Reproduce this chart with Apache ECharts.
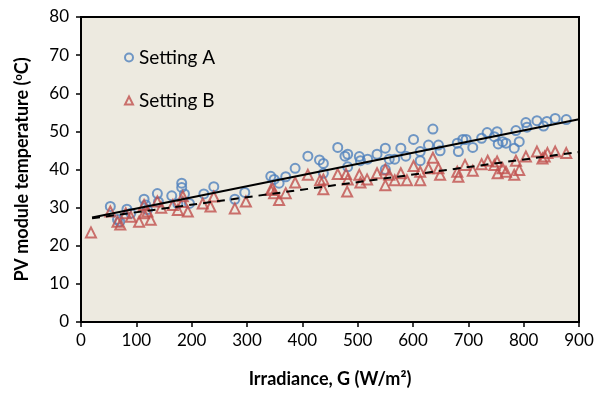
<!DOCTYPE html>
<html>
<head>
<meta charset="utf-8">
<script src="https://cdn.jsdelivr.net/npm/echarts@6/dist/echarts.min.js"></script>
<style>html,body{margin:0;padding:0;background:#fff}#c{width:596px;height:394px}</style>
</head>
<body>
<div id="c"></div>
<script>
var xTicks = [0,100,200,300,400,500,600,700,800,900];
var yTicks = [0,10,20,30,40,50,60,70,80];
var seriesNames = ['Setting A','Setting B'];
var settingA = [[53,30.3],[66,26.9],[70,26.3],[83,29.6],[90,28.5],[114,32.2],[117,30.7],[120,29.5],[138,33.7],[140,31.5],[164,33.1],[175,31],[182,36.4],[182,35.3],[187,33.6],[196,31.1],[222,33.6],[240,35.5],[278,32.2],[296,34],[343,38.2],[349,37.4],[358,36.4],[370,38.1],[387,40.3],[410,43.5],[431,42.5],[438,41.6],[438,39],[464,45.8],[477,43.5],[482,44],[482,40.7],[503,43.4],[505,42.3],[518,42.7],[535,44],[550,45.6],[550,40],[557,42.7],[567,42.7],[578,45.6],[587,43.5],[601,47.9],[613,44.7],[613,42.3],[628,46.4],[636,50.6],[646,46.4],[649,44.9],[680,46.9],[682,44.7],[690,47.9],[696,47.9],[708,45.8],[724,48.2],[734,49.7],[747,48.6],[752,49.9],[754,46.7],[762,47.3],[768,46.9],[783,45.6],[786,50.2],[792,47.3],[804,52.3],[806,51.1],[824,52.8],[836,51.4],[842,52.6],[857,53.4],[877,53.1]];
var settingB = [[18,23.5],[53,29],[66,26.3],[71,25.6],[81,28.5],[90,27.6],[105,26.3],[114,30.7],[114,28.5],[120,29],[126,26.8],[138,31.6],[145,30],[166,30.7],[175,29.4],[184,33],[184,31.5],[193,29],[220,31.1],[234,30.3],[240,32.9],[278,29.8],[298,31.6],[343,34.6],[346,35],[349,33.8],[358,32],[370,33.8],[387,36.6],[410,38.6],[432,37.2],[438,37.4],[438,34.8],[464,38.8],[479,38.8],[482,37.4],[481,34.2],[503,38.6],[505,36.6],[517,37.4],[535,39],[550,40],[550,35.9],[557,38.6],[567,37.2],[578,39],[589,37.2],[601,40.9],[613,37.2],[613,39.4],[628,40.3],[636,43.1],[646,40.3],[649,38.6],[680,39.4],[682,38.1],[694,41.2],[708,39.7],[724,41.4],[735,42.3],[747,41.2],[752,42.1],[753,39],[762,40.3],[768,39.4],[783,38.6],[786,42.3],[792,39.9],[804,43.4],[824,44.7],[834,42.9],[838,43.4],[843,44.3],[857,44.7],[877,44.3]];
var trendA = [[20,27.4],[900,53.2]];
var trendB = [[20,27.2],[900,44.6]];

var FONT = 'Lato, "Open Sans", sans-serif';
var chart = echarts.init(document.getElementById('c'), null, {renderer:'canvas'});
chart.setOption({
  animation:false,
  textStyle:{fontFamily:FONT},
  grid:{left:81,right:17,top:17,bottom:72,show:true,outerBoundsMode:'none',containLabel:false,
        backgroundColor:'#EDEAE0',borderColor:'#000',borderWidth:2},
  legend:{
    orient:'vertical', left:119, top:43, itemGap:24, itemWidth:8, itemHeight:8,
    data:[{name:seriesNames[0],icon:'circle'},{name:seriesNames[1],icon:'triangle'}],
    textStyle:{fontFamily:FONT,fontSize:19,color:'#000',padding:[0,0,0,1]}
  },
  xAxis:{
    type:'value', min:xTicks[0], max:xTicks[xTicks.length-1], interval:100,
    name:'Irradiance, G (W/m²)', nameLocation:'middle', nameGap:48,
    nameTextStyle:{fontFamily:FONT,fontSize:18,fontWeight:'bold',color:'#000'},
    axisLine:{lineStyle:{color:'#000',width:2}},
    axisTick:{show:true,inside:false,length:5,lineStyle:{color:'#000',width:1.5}},
    axisLabel:{fontFamily:FONT,fontSize:17,color:'#000',margin:10},
    splitLine:{show:false}
  },
  yAxis:{
    type:'value', min:yTicks[0], max:yTicks[yTicks.length-1], interval:10,
    name:'PV module temperature ({s|o}C)', nameLocation:'middle', nameGap:50,
    nameTextStyle:{fontFamily:FONT,fontSize:18,fontWeight:'bold',color:'#000',
      rich:{s:{fontFamily:FONT,fontSize:11,fontWeight:'bold',color:'#000',verticalAlign:'top',padding:[0,0,7,0]}}},
    axisLine:{lineStyle:{color:'#000',width:2}},
    axisTick:{show:true,inside:false,length:5,lineStyle:{color:'#000',width:1.5}},
    axisLabel:{fontFamily:FONT,fontSize:17,color:'#000',margin:12},
    splitLine:{show:false}
  },
  series:[
    {name:seriesNames[0],type:'scatter',data:settingA,symbol:'circle',symbolSize:9,
     itemStyle:{color:'rgba(0,0,0,0)',borderColor:'#4F81BD',borderWidth:2},z:2},
    {name:seriesNames[1],type:'scatter',data:settingB,symbol:'triangle',symbolSize:10,
     itemStyle:{color:'rgba(0,0,0,0)',borderColor:'#C0504D',borderWidth:2},z:3},
    {name:'trendA',type:'line',data:trendA,showSymbol:false,symbol:'none',
     lineStyle:{color:'#000',width:2,type:'solid'},z:5,silent:true},
    {name:'trendB',type:'line',data:trendB,showSymbol:false,symbol:'none',
     lineStyle:{color:'#000',width:2,type:[8,6]},z:5,silent:true}
  ]
});
</script>
</body>
</html>
